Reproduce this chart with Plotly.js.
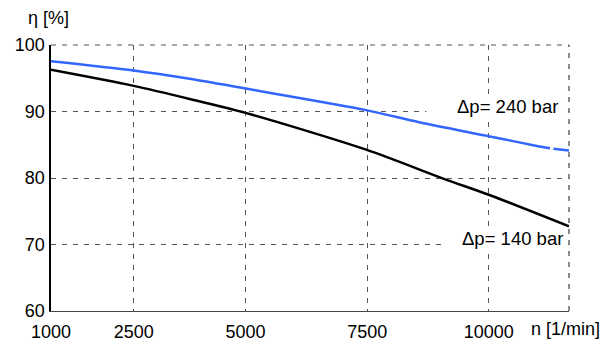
<!DOCTYPE html>
<html>
<head>
<meta charset="utf-8">
<script src="https://cdn.plot.ly/plotly-3.0.1.min.js"></script>
<style>html,body{margin:0;padding:0;background:#fff;}#chart{width:613px;height:345px;}</style>
</head>
<body>
<div id="chart"></div>
<script>
// Speed n [1/min] (axis units) and efficiency η [%]
const speed240 = [1000, 2700, 3850, 5000, 7480, 8570, 10000, 11040, 11260];
const eta240   = [97.56, 96.16, 94.91, 93.45, 90.21, 88.38, 86.29, 84.75, 84.48];
const speed240Tail = [11330, 11650];
const eta240Tail   = [84.4, 84.15];
const speed140 = [1000, 2700, 3850, 5000, 7480, 9090, 10000, 11650];
const eta140   = [96.27, 93.85, 91.89, 89.79, 84.26, 79.84, 77.48, 72.73];

const xTickVals = [1000, 2700, 5000, 7500, 10000];
const xTickText = ["1000", "2500", "5000", "7500", "10000"];
const yTickVals = [60, 70, 80, 90, 100];
const yTickText = ["60", "70", "80", "90", "100"];

const FONT = "Liberation Sans, Arial, sans-serif";
const BLUE = "#3366ff";
const TXT = "#000";

const traces = [
  {x: speed240, y: eta240, mode: "lines", line: {color: BLUE, width: 2.5, shape: "spline", smoothing: 0.8}, hoverinfo: "skip"},
  {x: speed240Tail, y: eta240Tail, mode: "lines", line: {color: BLUE, width: 2.5}, hoverinfo: "skip"},
  {x: speed140, y: eta140, mode: "lines", line: {color: "#000", width: 2.5, shape: "spline", smoothing: 0.8}, hoverinfo: "skip"}
];

const layout = {
  width: 613, height: 345,
  margin: {l: 51, r: 44, t: 45, b: 34, pad: 0},
  paper_bgcolor: "#fff", plot_bgcolor: "#fff",
  showlegend: false,
  font: {family: FONT, size: 18, color: TXT},
  xaxis: {
    range: [1000, 11650], tickmode: "array", tickvals: xTickVals, ticktext: xTickText,
    showgrid: true, gridcolor: "#555", gridwidth: 1, griddash: "5px,6px",
    zeroline: false, showline: true, linecolor: "#444", linewidth: 1,
    ticks: "", ticklabelstandoff: 4, tickfont: {family: FONT, size: 18, color: TXT}
  },
  yaxis: {
    range: [60, 100], tickmode: "array", tickvals: yTickVals, ticktext: yTickText,
    showgrid: true, gridcolor: "#555", gridwidth: 1, griddash: "5px,6px",
    zeroline: false, showline: true, linecolor: "#000", linewidth: 2.5,
    ticks: "", ticklabelstandoff: 0, tickfont: {family: FONT, size: 18, color: TXT}
  },
  shapes: [
    {type: "rect", xref: "x", yref: "y", x0: 8716, x1: 11590, y0: 88.5, y1: 92.4, layer: "between",
     fillcolor: "#fff", line: {width: 0}},
    {type: "rect", xref: "x", yref: "y", x0: 9024, x1: 11590, y0: 68.7, y1: 72.6, layer: "between",
     fillcolor: "#fff", line: {width: 0}},
    {type: "line", xref: "paper", yref: "paper", x0: 1, x1: 1, y0: 0, y1: 1,
     line: {color: "#666", width: 1.5, dash: "5px,6px"}},
    {type: "line", xref: "paper", yref: "paper", x0: 0, x1: 1, y0: 1, y1: 1,
     line: {color: "#555", width: 1, dash: "5px,6px"}}
  ],
  annotations: [
    {text: "η [%]", xref: "paper", yref: "paper", x: -0.048, y: 1.1015, xanchor: "left", yanchor: "middle",
     showarrow: false, font: {family: FONT, size: 18, color: TXT}},
    {text: "n [1/min]", xref: "paper", yref: "paper", x: 0.9227, y: -0.0677, xanchor: "left", yanchor: "middle",
     showarrow: false, font: {family: FONT, size: 18, color: TXT}},
    {text: "Δp= 240 bar", xref: "x", yref: "y", x: 9300, y: 90.73, xanchor: "left", yanchor: "middle",
     showarrow: false, font: {family: FONT, size: 18.5, color: TXT}},
    {text: "Δp= 140 bar", xref: "x", yref: "y", x: 9400, y: 70.85, xanchor: "left", yanchor: "middle",
     showarrow: false, font: {family: FONT, size: 18.5, color: TXT}}
  ]
};

Plotly.newPlot("chart", traces, layout, {displayModeBar: false, staticPlot: true});
</script>
</body>
</html>
